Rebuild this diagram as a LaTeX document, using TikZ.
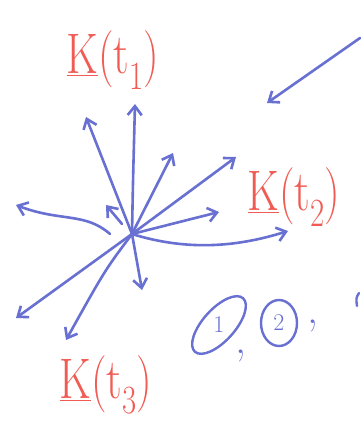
\documentclass[tikz,border=0pt]{standalone}
\usepackage{fontspec}
\usetikzlibrary{arrows.meta}
\definecolor{penblue}{RGB}{104,112,210}
\definecolor{penred}{RGB}{240,92,84}
\tikzset{
  vec/.style={draw=penblue, line width=2.6pt, line cap=round, line join=round,
    -{Straight Barb[length=9pt,width=14pt,line width=2.6pt]}},
  lbl/.style={text=penred, font=\fontsize{44}{50}\selectfont, inner sep=0pt},
  punct/.style={text=penblue, font=\fontsize{44}{50}\selectfont, inner sep=0pt},
  numtxt/.style={text=penblue, font=\fontsize{24}{28}\selectfont, inner sep=0pt},
  ring/.style={draw=penblue, line width=2.4pt}
}
\newcommand{\tall}[1]{\scalebox{1}[1.3]{#1}}
\begin{document}
\begin{tikzpicture}[x=1pt,y=-1pt]
\useasboundingbox (0,0) rectangle (360,423);
\fill[white] (0,0) rectangle (360,423);
\coordinate (o) at (132,234);
\coordinate (a1) at (86,117);
\coordinate (a2) at (135,104);
\coordinate (a3) at (173,153);
\coordinate (a4) at (236,157);
\coordinate (a5) at (219,212);
\coordinate (a6) at (288,231);
\coordinate (a7s) at (122,224);
\coordinate (a7) at (106,205);
\coordinate (a8s) at (110,234);
\coordinate (a8) at (16,205);
\coordinate (a9) at (16,318);
\coordinate (a10) at (66,340);
\coordinate (a11) at (142,290);
\coordinate (b0) at (360,38);
\coordinate (b1) at (267,103);
\draw[vec] (o) -- (a1);
\draw[vec] (o) .. controls (133,180) .. (a2);
\draw[vec] (o) -- (a3);
\draw[vec] (o) -- (a4);
\draw[vec] (o) -- (a5);
\draw[vec] (o) .. controls (190,252) and (240,246) .. (a6);
\draw[vec] (a7s) -- (a7);
\draw[vec] (a8s) .. controls (85,212) and (60,222) .. (a8);
\draw[vec] (o) -- (a9);
\draw[vec] (o) .. controls (105,270) .. (a10);
\draw[vec] (o) -- (a11);
\draw[vec] (b0) -- (b1);
\node[lbl] (k1) at (113,60) {\tall{\underline{K}(t\textsubscript{1})}};
\node[lbl] (k2) at (294,197) {\tall{\underline{K}(t\textsubscript{2})}};
\node[lbl] (k3) at (106,385) {\tall{\underline{K}(t\textsubscript{3})}};
\node[numtxt] (c1) at (219,325) {1};
\draw[ring, rotate around={48:(c1)}] (c1) ellipse (36pt and 16pt);
\node[punct] (m1) at (241,356) {,};
\node[numtxt] (c2) at (279,323) {2};
\draw[ring] (c2) ellipse (18pt and 23pt);
\node[punct] (m2) at (313,326) {,};
\draw[ring, line cap=round] (359,293) .. controls (356,298) .. (357,306);
\end{tikzpicture}
\end{document}
